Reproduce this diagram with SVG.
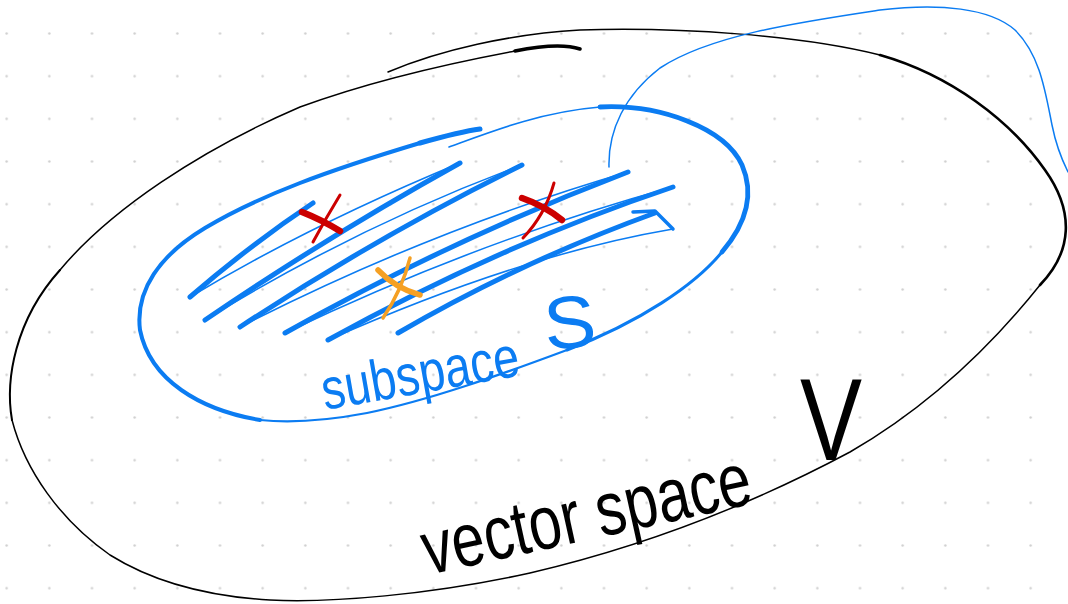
<svg xmlns="http://www.w3.org/2000/svg" width="1068" height="604" viewBox="0 0 1068 604">
<defs>
<pattern id="dots" patternUnits="userSpaceOnUse" x="-14.67" y="12.17" width="42.667" height="42.667">
<circle cx="21.33" cy="21.33" r="1.2" fill="#cfcfcf"/>
</pattern>
<style>
.blk{fill:none;stroke:#000;stroke-linecap:round;stroke-linejoin:round}
.blu{fill:none;stroke:#0b7cf2;stroke-linecap:round;stroke-linejoin:round}
.hk{fill:none;stroke:#0b7cf2;stroke-width:5;stroke-linecap:round}
.hn{fill:none;stroke:#0b7cf2;stroke-width:1.6;stroke-linecap:round}
.red{fill:none;stroke:#cc0000;stroke-linecap:round}
.org{fill:none;stroke:#f5a023;stroke-linecap:round}
.lbl{font-family:"Liberation Sans","DejaVu Sans",sans-serif}
</style>
</defs>
<rect width="1068" height="604" fill="#fff"/>
<rect id="grid" width="1068" height="604" fill="url(#dots)"/>

<g id="vector-space">
<path class="blk" stroke-width="1.5" d="M388,72 C440,50 510,34 580,30 C680,27 800,35 880,55"/>
<path class="blk" stroke-width="2.6" d="M880,55 C950,75 1010,120 1045,170 C1075,212 1072,252 1040,285"/>
<path class="blk" stroke-width="1.5" d="M1040,285 C1000,335 940,400 850,452 C760,500 650,545 530,573 C430,595 330,603 270,600 C200,596 150,580 110,555 C60,520 25,470 12,420"/>
<path class="blk" stroke-width="2" d="M12,420 C5,380 15,320 60,270"/>
<path class="blk" stroke-width="1.5" d="M60,270 C110,210 200,150 300,107 C360,85 440,65 515,51"/>
<path class="blk" stroke-width="3.6" d="M515,51 C540,46 565,44 580,49"/>
<text class="lbl" font-size="76" fill="#000" x="428" y="575" textLength="335" lengthAdjust="spacingAndGlyphs" transform="rotate(-12.4 428 575)">vector space</text>
<text class="lbl" font-size="116" fill="#000" x="800" y="460" textLength="62" lengthAdjust="spacingAndGlyphs">V</text>
</g>

<g id="subspace">
<path class="blu" stroke-width="1.6" d="M449,147 C490,132 540,112 600,107"/>
<path class="blu" stroke-width="4.8" d="M600,107 C660,104 725,128 742,165 C755,195 745,225 722,252"/>
<path class="blu" stroke-width="3" d="M722,252 C695,285 640,322 567,350"/>
<path class="blu" stroke-width="2.2" d="M567,350 C500,375 430,400 367,413 C330,420 290,423 260,420"/>
<path class="blu" stroke-width="4" d="M260,420 C200,410 150,380 140,330 C135,290 160,255 205,228 C260,195 330,170 420,143"/>
<path class="blu" stroke-width="5" d="M420,143 C445,136 465,131 480,129"/>
<path class="hk" d="M190,297 Q250,245 313,203"/>
<path class="hk" d="M205,320 Q330,235 460,163"/>
<path class="hk" d="M240,327 Q380,235 522,165"/>
<path class="hk" d="M285,333 Q450,240 628,172"/>
<path class="hk" d="M328,340 Q500,245 673,187"/>
<path class="hk" d="M398,333 Q520,262 655,213"/>
<path class="hn" d="M190,297 Q310,225 460,163"/>
<path class="hn" d="M205,320 Q360,225 522,165"/>
<path class="hn" d="M240,327 Q430,230 628,172"/>
<path class="hn" d="M285,333 Q480,240 673,187"/>
<path class="hn" d="M328,340 Q520,255 673,229"/>
<path class="blu" stroke-width="3.5" d="M633,212 L655,211 L673,229"/>
<text class="lbl" font-size="58" fill="#0b7cf2" x="325" y="410" textLength="200" lengthAdjust="spacingAndGlyphs" transform="rotate(-10 325 410)">subspace</text>
<text class="lbl" font-size="74" fill="#0b7cf2" x="546" y="350" textLength="52" lengthAdjust="spacingAndGlyphs" transform="rotate(-5 546 350)">S</text>
</g>

<g id="x1">
<path class="red" stroke-width="6.5" d="M302,212 Q322,220 340,231"/>
<path class="red" stroke-width="3" d="M340,195 Q326,218 313,242"/>
</g>
<g id="x2">
<path class="red" stroke-width="6.5" d="M522,198 Q545,206 562,220"/>
<path class="red" stroke-width="3" d="M554,183 Q545,215 523,238"/>
</g>
<g id="x3">
<path class="org" stroke-width="5.5" d="M378,270 Q395,288 420,295"/>
<path class="org" stroke-width="3.5" d="M410,258 Q402,290 383,318"/>
</g>

<g id="connectors">
<path class="blu" stroke-width="1.5" d="M609,167 C608,130 625,95 660,68 C710,35 800,22 880,10 C940,3 990,8 1015,30 C1040,55 1045,90 1052,125 C1056,145 1062,160 1068,172"/>
</g>
</svg>
